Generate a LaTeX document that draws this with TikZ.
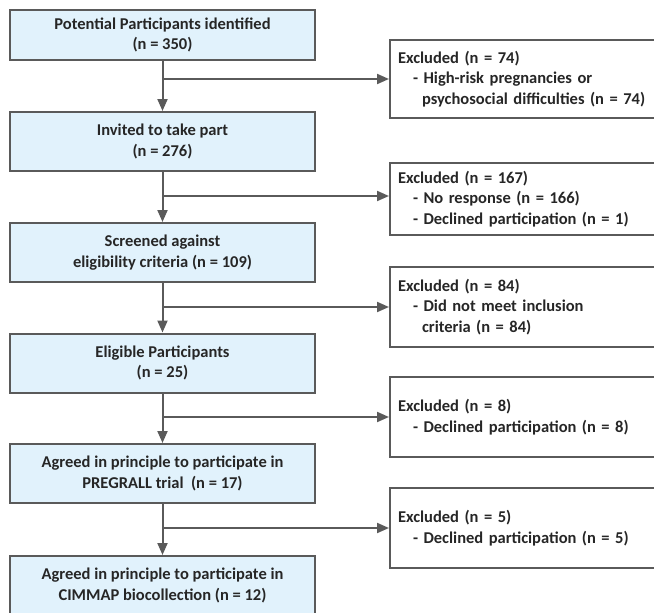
\documentclass[tikz,border=0pt]{standalone}
\usepackage{fontspec}
\setmainfont{Carlito}
\usetikzlibrary{arrows.meta}
\definecolor{boxblue}{HTML}{E1F2FC}
\definecolor{linegray}{HTML}{5A5A5A}
\definecolor{textgray}{HTML}{262626}

\begin{document}
\begin{tikzpicture}[x=1pt,y=-1pt,
	stage/.style={draw=linegray, line width=2pt, fill=boxblue, minimum width=305pt, minimum height=59pt, inner sep=0pt, align=center, text=textgray, font=\bfseries\fontsize{16.5}{20.5}\selectfont},
	excl/.style={draw=linegray, line width=2pt, fill=white, text width=274pt, inner xsep=8pt, inner ysep=0pt, align=left, text=textgray, font=\bfseries\fontsize{16.5}{20.5}\selectfont},
	flow/.style={draw=linegray, line width=2pt, -{Triangle[length=12pt,width=10pt]}}]
	\useasboundingbox (0,0) rectangle (654,613);

	% Hauptpfad
	\node [stage, minimum height=50pt] (s1) at (162.5,35) {Potential Participants identified\\(n = 350)};
	\node [stage] (s2) at (162.5,141.5) {Invited to take part\\(n = 276)};
	\node [stage] (s3) at (162.5,252.5) {Screened against\\eligibility criteria (n = 109)};
	\node [stage] (s4) at (162.5,363) {Eligible Participants\\(n = 25)};
	\node [stage] (s5) at (162.5,473.5) {Agreed in principle to participate in\\PREGRALL trial\ \ (n = 17)};
	\node [stage] (s6) at (162.5,585.5) {Agreed in principle to participate in\\CIMMAP biocollection (n = 12)};

	% Ausschluesse
	\node [excl, minimum height=78pt] (e1) at (535,79) {Excluded (n = 74)\\\hspace*{15pt}- High-risk pregnancies or\\\hspace*{24pt}psychosocial difficulties (n = 74)};
	\node [excl, minimum height=72pt] (e2) at (535,199) {Excluded (n = 167)\\\hspace*{15pt}- No response (n = 166)\\\hspace*{15pt}- Declined participation (n = 1)};
	\node [excl, minimum height=80pt] (e3) at (535,307) {Excluded (n = 84)\\\hspace*{15pt}- Did not meet inclusion\\\hspace*{24pt}criteria (n = 84)};
	\node [excl, minimum height=80pt] (e4) at (535,417) {Excluded (n = 8)\\\hspace*{15pt}- Declined participation (n = 8)};
	\node [excl, minimum height=80pt] (e5) at (535,528) {Excluded (n = 5)\\\hspace*{15pt}- Declined participation (n = 5)};

	% Pfeile
	\draw [flow] (s1) -- (s2);
	\draw [flow] (s2) -- (s3);
	\draw [flow] (s3) -- (s4);
	\draw [flow] (s4) -- (s5);
	\draw [flow] (s5) -- (s6);

	\coordinate (j1) at (162.5,79);
	\coordinate (j2) at (162.5,196);
	\coordinate (j3) at (162.5,307);
	\coordinate (j4) at (162.5,417);
	\coordinate (j5) at (162.5,528);
	\draw [flow] (j1) -- (j1 -| e1.west);
	\draw [flow] (j2) -- (j2 -| e2.west);
	\draw [flow] (j3) -- (j3 -| e3.west);
	\draw [flow] (j4) -- (j4 -| e4.west);
	\draw [flow] (j5) -- (j5 -| e5.west);
\end{tikzpicture}
\end{document}
